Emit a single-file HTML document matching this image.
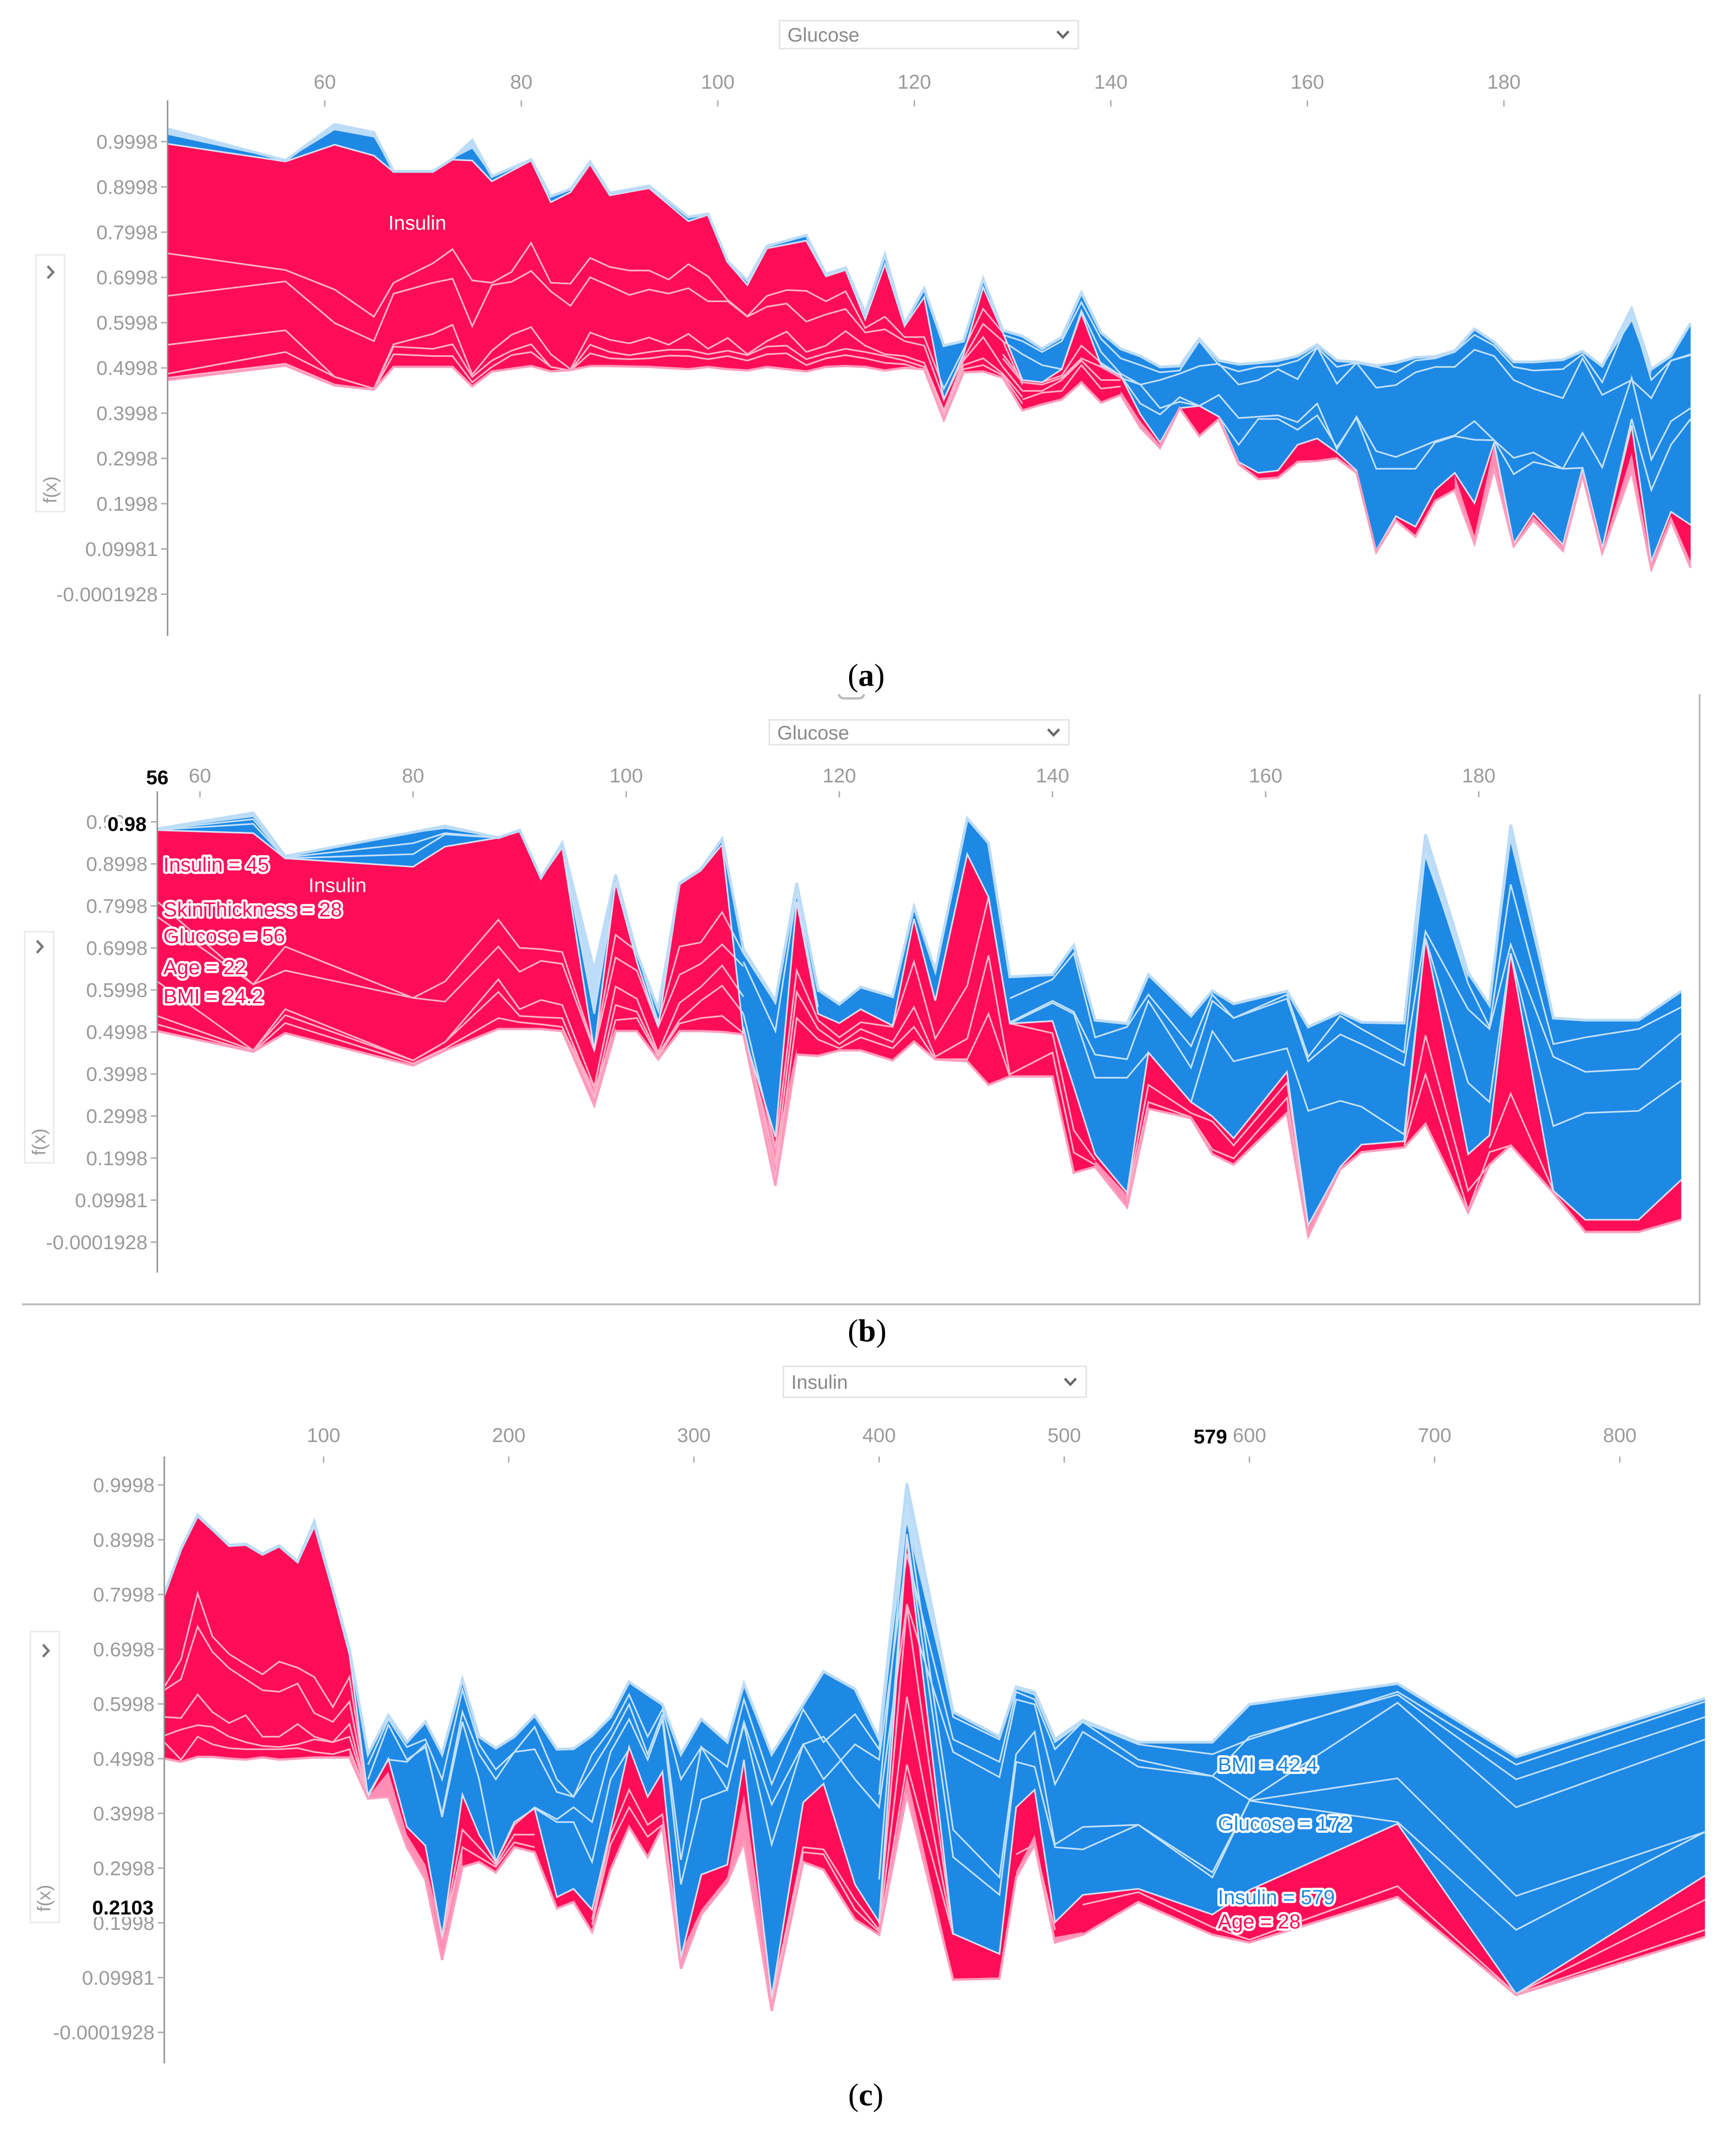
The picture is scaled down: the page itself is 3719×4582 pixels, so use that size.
<!DOCTYPE html>
<html lang="en">
<head>
<meta charset="utf-8">
<title>SHAP force plots</title>
<style>
html,body{margin:0;padding:0;background:#fff;}
svg{display:block;font-family:"Liberation Sans",sans-serif;}
.tick{font-size:43px;fill:#9a9a9a;}
.sel{font-size:42px;fill:#8a8a8a;}
.halo{font-size:44px;paint-order:stroke;stroke:#fff;stroke-width:10px;stroke-linejoin:round;}
.bold{font-size:43px;font-weight:bold;fill:#000;paint-order:stroke;stroke:#fff;stroke-width:12px;stroke-linejoin:round;}
.cap{font-family:"Liberation Serif",serif;font-size:68px;fill:#000;}
</style>
</head>
<body>
<svg id="chart" xmlns="http://www.w3.org/2000/svg" width="3719" height="4582" viewBox="0 0 3719 4582">
<rect width="3719" height="4582" fill="#fff"/>

<g id="panel-a"></g>
<g id="panel-b"></g>
<g id="panel-c"></g>

<!-- panel a furniture -->
<g>
<rect x="1670" y="44" width="640" height="60" fill="#fff" stroke="#e2e2e2" stroke-width="3"/>
<text class="sel" x="1687" y="89">Glucose</text>
<polyline points="2265,67 2277,80 2289,67" fill="none" stroke="#666" stroke-width="5"/>
</g>
<g>
<rect x="77" y="546" width="61" height="550" fill="#fff" stroke="#e8e8e8" stroke-width="3"/>
<polyline points="102,570 114,583 102,596" fill="none" stroke="#777" stroke-width="5"/>
<text class="tick" transform="translate(121,1078) rotate(-90)" style="font-size:40px;fill:#999">f(x)</text>
</g>
<text x="894" y="492" text-anchor="middle" font-size="43" fill="#fff">Insulin</text>
<text class="cap" x="1816" y="1469">(<tspan font-weight="bold">a</tspan>)</text>
<path d="M1797,1487 q2,9 12,9 h30 q10,0 12,-9" fill="none" stroke="#bbb" stroke-width="5"/>

<!-- panel b furniture -->
<path d="M47,2794 H3641 V1487" fill="none" stroke="#bdbdbd" stroke-width="4"/>
<g>
<rect x="1648" y="1542" width="642" height="53" fill="#fff" stroke="#e2e2e2" stroke-width="3"/>
<text class="sel" x="1665" y="1584">Glucose</text>
<polyline points="2245,1562 2257,1575 2269,1562" fill="none" stroke="#666" stroke-width="5"/>
</g>
<g>
<rect x="53" y="1996" width="62" height="495" fill="#fff" stroke="#e8e8e8" stroke-width="3"/>
<polyline points="79,2015 91,2028 79,2041" fill="none" stroke="#777" stroke-width="5"/>
<text class="tick" transform="translate(97,2475) rotate(-90)" style="font-size:40px;fill:#999">f(x)</text>
</g>
<text x="723" y="1911" text-anchor="middle" font-size="43" fill="#fff">Insulin</text>
<g>
<text class="halo" x="350" y="1867" fill="#ff0d57">Insulin = 45</text>
<text class="halo" x="350" y="1963" fill="#ff0d57">SkinThickness = 28</text>
<text class="halo" x="350" y="2020" fill="#ff0d57">Glucose = 56</text>
<text class="halo" x="350" y="2087" fill="#ff0d57">Age = 22</text>
<text class="halo" x="350" y="2149" fill="#ff0d57">BMI = 24.2</text>
</g>
<text class="bold" x="337" y="1680" text-anchor="middle">56</text>
<text class="bold" x="314" y="1780" text-anchor="end">0.98</text>
<text class="cap" x="1816" y="2873">(<tspan font-weight="bold">b</tspan>)</text>

<!-- panel c furniture -->
<g>
<rect x="1678" y="2927" width="649" height="66" fill="#fff" stroke="#e2e2e2" stroke-width="3"/>
<text class="sel" x="1695" y="2975">Insulin</text>
<polyline points="2281,2953 2293,2966 2305,2953" fill="none" stroke="#666" stroke-width="5"/>
</g>
<g>
<rect x="65" y="3495" width="62" height="623" fill="#fff" stroke="#e8e8e8" stroke-width="3"/>
<polyline points="92,3523 104,3536 92,3549" fill="none" stroke="#777" stroke-width="5"/>
<text class="tick" transform="translate(108,4095) rotate(-90)" style="font-size:40px;fill:#999">f(x)</text>
</g>
<g>
<text class="halo" x="2609" y="3795" fill="#1e88e5">BMI = 42.4</text>
<text class="halo" x="2609" y="3921" fill="#1e88e5">Glucose = 172</text>
<text class="halo" x="2609" y="4079" fill="#1e88e5">Insulin = 579</text>
<text class="halo" x="2609" y="4131" fill="#ff0d57">Age = 28</text>
</g>
<text class="bold" x="2593" y="3092" text-anchor="middle">579</text>
<text class="bold" x="329" y="4101" text-anchor="end">0.2103</text>
<text class="cap" x="1817" y="4510">(<tspan font-weight="bold">c</tspan>)</text>
</svg>

<script>
// shared tick labels
const yTickLabels = ["0.9998","0.8998","0.7998","0.6998","0.5998","0.4998","0.3998","0.2998","0.1998","0.09981","-0.0001928"];
const glucoseTicks = [60,80,100,120,140,160,180];
const insulinTicks = [100,200,300,400,500,600,700,800];

// PANEL A: Glucose
const aX = [44,56,61,65,67, 71,73,75,77,81, 83,85,87,89,93, 97,99,101,103,105, 109,111,113,115,117, 119,121,123,125,127, 129,131,133,135,137, 139,141,143,145,147, 149,151,153,155,157, 159,161,163,165,167, 169,171,173,175,177, 179,181,183,186,188, 190,193,195,197,199];
const aTop = [1.028,.958,1.038,1.020,.934, .934,.962,1.003,.923,.960, .879,.895,.955,.886,.902, .833,.840,.735,.693,.769, .793,.707,.721,.621,.750, .597,.675,.549,.559,.697, .583,.570,.542,.568,.666, .578,.542,.526,.502,.504, .564,.516,.508,.511,.516, .526,.551,.516,.513,.505, .511,.523,.525,.538,.586, .557,.513,.513,.518,.537, .504,.631,.497,.526,.599];
const aSplit = [.995,.956,.993,.969,.933, .933,.960,.958,.912,.958, .866,.888,.950,.881,.897, .824,.838,.733,.683,.764, .781,.702,.716,.607,.729, .592,.656,.430,.530,.678, .578,.473,.468,.497,.621, .506,.483,.397,.335,.411, .416,.392,.292,.268,.273, .330,.344,.313,.273,.096, .172,.149,.230,.268,.201, .335,.112,.179,.109,.279, .101,.373,.072,.182,.153];
const aBottom = [.473,.505,.461,.452,.502, .502,.502,.459,.492,.504, .492,.495,.504,.504,.502, .497,.502,.497,.494,.502, .492,.502,.504,.502,.494, .500,.497,.385,.490,.492, .478,.406,.419,.430,.468, .423,.440,.368,.323,.411, .349,.387,.287,.254,.257, .292,.294,.300,.268,.093, .163,.127,.206,.230,.112, .278,.106,.163,.096,.263, .091,.273,.055,.163,.058];
const aRedX = [44,56,61,65,67,71,73,75,77,79,81,83,85,87,89,91,93,95,97,99,101,103,105,107,109,111,113,115,117,119,121,123,125,127,129,131];
const aRed1 = [.753,.716,.673,.613,.688,.731,.762,.693,.688,.712,.776,.688,.686,.743,.723,.715,.715,.695,.729,.702,.650,.614,.659,.672,.670,.647,.669,.588,.613,.568,.568,.454,.540,.630,.578,.473];
const aRed2 = [.659,.691,.599,.559,.664,.688,.697,.592,.683,.690,.714,.669,.637,.700,.681,.661,.673,.664,.676,.647,.647,.613,.635,.642,.602,.618,.630,.578,.585,.559,.549,.430,.521,.597,.559,.463];
const aRed3 = [.551,.583,.480,.454,.552,.575,.595,.485,.538,.573,.590,.530,.497,.578,.562,.554,.567,.551,.575,.542,.566,.530,.559,.580,.535,.549,.581,.549,.530,.526,.511,.406,.516,.568,.502,.449];
const aRed4 = [.487,.535,.480,.454,.547,.542,.552,.480,.516,.538,.552,.502,.494,.551,.535,.528,.535,.540,.540,.530,.538,.528,.547,.549,.519,.532,.542,.535,.526,.516,.502,.402,.506,.521,.487,.435];
const aRed5 = [.478,.509,.463,.452,.530,.526,.526,.468,.502,.528,.535,.502,.494,.532,.521,.519,.521,.527,.526,.519,.526,.516,.530,.532,.506,.521,.528,.521,.511,.508,.494,.392,.497,.506,.483,.421];
const aRedLateX = [131,133,135,137,139,141];
const aRed6 = [.430,.445,.449,.506,.454,.459];
const aRed7 = [.449,.449,.473,.516,.473,.473];
const aBlueX = [129,131,133,135,137, 139,141,143,145,147, 149,151,153,155,157, 159,161,163,165,167, 169,171,173,175,177, 179,181,183,186,188, 190,193,195,197,199];
const aBlue0 = [.573,.559,.535,.559,.645,.564,.521,.506,.490,.494,.559,.506,.492,.502,.504,.516,.545,.502,.511,.502,.490,.516,.521,.535,.573,.549,.502,.494,.497,.530,.468,.621,.473,.516,.530];
const aBlue1 = [.559,.530,.506,.497,.626,.535,.487,.463,.473,.487,.504,.509,.463,.473,.497,.475,.545,.465,.511,.456,.462,.490,.502,.502,.540,.526,.473,.454,.433,.521,.440,.473,.433,.516,.528];
const aBlue2 = [.530,.473,.468,.483,.549,.511,.483,.421,.397,.435,.416,.440,.389,.392,.395,.380,.421,.320,.392,.316,.303,.320,.338,.351,.382,.340,.301,.313,.277,.356,.280,.478,.297,.382,.411];
const aBlue3 = [.521,.468,.463,.478,.521,.502,.478,.463,.411,.425,.416,.392,.330,.387,.387,.363,.395,.325,.389,.277,.277,.277,.335,.349,.341,.340,.265,.292,.277,.279,.101,.387,.230,.330,.387];
// pale upper bands (top edge down to these values)
const aPale1X = [44,56,61,65,67];
const aPale1 = [1.015,.958,1.025,1.009,.934];
const aPale2X = [73,75,77];
const aPale2 = [.962,.984,.923];
const aPale3X = [190,193,195];
const aPale3 = [.502,.602,.483];
// pink lower bands (these values down to bottom edge)
const aPink1X = [175,177,179,181,183,186,188,190,193,195,197,199];
const aPink1 = [.263,.129,.330,.109,.172,.106,.278,.096,.311,.067,.172,.072];
const aPink2X = [121,123,125];
const aPink2 = [.502,.411,.497];
const aPink3X = [141,143,145,147];
const aPink3 = [.449,.382,.330,.411];

// PANEL B: Glucose
const bX = [56,65,68,80,83, 88,90,92,94,97, 99,101,103,105,107, 109,111,114,116,118, 120,122,125,127,129, 132,134,136,140,142, 144,147,149,153,155, 157,162,164,167,169, 173,175,179,181,183, 187,190,195,199];
const bTop = [.983,1.021,.918,.975,.990, .962,.980,.867,.949,.646, .874,.687,.554,.854,.887, .959,.697,.574,.854,.600, .566,.607,.584,.798,.646, 1.008,.949,.631,.636,.706, .528,.520,.636,.538,.598, .567,.597,.512,.546,.523, .521,.970,.641,.564,.993, .533,.528,.528,.597];
const bSplit = [.980,.973,.913,.893,.941, .962,.977,.867,.939,.456, .857,.667,.512,.851,.884, .946,.497,.250,.810,.543, .521,.554,.515,.769,.574, .923,.821,.520,.526,.369, .209,.117,.451,.333,.299, .247,.405,.040,.179,.232, .240,.723,.209,.254,.687, .122,.053,.053,.148];
const bBottom = [.502,.453,.497,.420,.456, .507,.507,.507,.502,.325, .502,.502,.435,.502,.502, .500,.494,.134,.446,.443, .456,.456,.432,.477,.435, .430,.374,.394,.394,.165, .179,.083,.317,.295,.209, .184,.307,.014,.173,.214, .225,.281,.071,.184,.230, .117,.024,.024,.053];
const bRedX = [56,65,68,80,83,88,90,92,94,97,99,101,103,105,107,109,111];
const bRed1 = [.810,.613,.703,.581,.620,.767,.700,.697,.690,.461,.731,.692,.523,.703,.713,.785,.687];
const bRed2 = [.774,.613,.646,.581,.572,.703,.643,.669,.662,.456,.677,.646,.512,.636,.662,.708,.656];
const bRed3 = [.620,.456,.554,.432,.476,.625,.554,.576,.564,.369,.608,.579,.451,.569,.607,.658,.584];
const bRed4 = [.538,.456,.540,.432,.476,.595,.538,.535,.533,.348,.564,.548,.446,.528,.574,.610,.543];
const bRed5 = [.518,.453,.521,.425,.461,.533,.523,.518,.512,.343,.528,.533,.441,.520,.533,.538,.497];
const bRedMidX = [111,114,116,118,120,122,125,127,129,132,134,136];
const bRed6 = [.543,.225,.646,.528,.487,.523,.512,.667,.484,.610,.821,.520];
const bRed7 = [.512,.184,.595,.507,.471,.507,.476,.559,.441,.484,.682,.399];
const bRed8 = [.497,.153,.533,.482,.461,.487,.461,.512,.435,.435,.543,.394];
const bSpikeX = [173,175,179,181,183,187];
const bRed9 = [.240,.492,.122,.184,.230,.117];
const bRed10 = [.230,.399,.076,.214,.230,.117];
const bSpike2X = [181,183,187];
const bRed11 = [.224,.353,.122];
const bDipX = [147,149,153,155,157,162,164];
const bRed12 = [.112,.374,.307,.287,.230,.379,.040];
const bRed13 = [.101,.333,.297,.220,.199,.343,.024];
const bShelfX = [136,140,142,144];
const bRed14 = [.520,.497,.266,.195];
const bRed15 = [.399,.451,.213,.184];
const bBlueX = [136,140,142,144,147,149,153,155,157,162,164,167,169,173,175,179,181,183,187,190,195,199];
const bBlue1 = [.580,.625,.687,.487,.512,.589,.466,.589,.533,.589,.441,.538,.507,.451,.929,.615,.512,.851,.471,.487,.507,.559];
const bBlue2 = [.523,.574,.548,.446,.435,.574,.415,.574,.533,.579,.430,.494,.471,.420,.739,.554,.507,.708,.441,.405,.412,.497];
const bBlue3 = [.520,.569,.543,.391,.391,.451,.333,.502,.430,.461,.312,.336,.322,.256,.723,.379,.333,.687,.276,.307,.312,.384];
const bCapX = [56,65,68,80,83,88];
const bBlue4 = [.982,1.006,.915,.949,.973,.962];
const bBlue5 = [.981,.995,.913,.923,.970,.962];
const bDropX = [94,97,99];
const bBlue6 = [.939,.543,.851];
const bValleyX = [111,114,116,118];
const bBlue7 = [.687,.569,.841,.595];
const bBlue8 = [.667,.502,.831,.559];
const bPale1X = [56,65,68,80,83,88];
const bPale1 = [.982,1.011,.915,.973,.983,.962];
const bPale2X = [94,97,99];
const bPale2 = [.942,.543,.870];
const bPale3X = [111,114,116,118];
const bPale3 = [.697,.564,.836,.595];
const bPale4X = [173,175,179];
const bPale4 = [.521,.913,.625];
const bPale5X = [181,183,187];
const bPale5 = [.554,.949,.528];
const bPink1X = [94,97,99];
const bPink1 = [.512,.369,.512];
const bPink2X = [111,114,116];
const bPink2 = [.497,.225,.461];
const bPink3X = [144,147,149];
const bPink3 = [.194,.112,.333];
const bPink4X = [162,164,167];
const bPink4 = [.333,.038,.179];

// PANEL C: Insulin
const cX = [14,23,32,40,49, 58,67,76,86,95, 105,114,124,135,145, 155,164,175,184,193, 203,214,226,235,245, 255,265,275,283,293, 304,318,327,342,359, 370,387,400,415,440, 465,474,484,495,510, 540,580,600,680,744, 846];
const cTop = [.800,.883,.945,.919,.890, .892,.874,.889,.860,.933, .810,.700,.508,.579,.530, .567,.508,.645,.540,.519, .540,.579,.517,.518,.542, .576,.640,.617,.599,.508, .572,.530,.637,.508,.599, .659,.627,.535,1.003,.585, .540,.631,.622,.535,.570, .530,.530,.599,.637,.503, .610];
const cSplit = [.798,.881,.942,.917,.888, .890,.872,.887,.858,.924, .805,.690,.430,.500,.375, .341,.174,.434,.361,.311, .384,.409,.247,.262,.224, .370,.521,.430,.476,.137, .288,.306,.498,.064,.420, .454,.270,.201,.903,.180, .143,.411,.443,.201,.251, .262,.215,.260,.381,.070, .286];
const cBottom = [.500,.494,.503,.503,.500, .498,.502,.498,.500,.502, .502,.502,.427,.430,.338, .279,.132,.302,.311,.292, .338,.329,.226,.238,.183, .297,.375,.320,.375,.116, .215,.274,.347,.039,.311, .297,.206,.178,.434,.096, .098,.283,.343,.164,.178, .238,.178,.164,.247,.068, .174];
const cRedX = [14,23,32,40,49,58,67,76,86,95,105,114,124];
const cRed1 = [.631,.681,.802,.723,.691,.672,.654,.677,.666,.649,.594,.649,.430];
const cRed2 = [.625,.645,.741,.695,.665,.645,.625,.622,.637,.583,.567,.604,.430];
const cRed3 = [.576,.574,.617,.585,.565,.579,.540,.540,.563,.540,.530,.563,.430];
const cRed4 = [.542,.553,.561,.558,.540,.530,.523,.521,.526,.535,.530,.540,.430];
const cRed5 = [.530,.498,.540,.526,.519,.517,.517,.517,.519,.512,.508,.517,.430];
const cSpikeX = [400,415,440];
const cRed6 = [.197,.777,.180];
const cRed7 = [.187,.613,.178];
const cRed8 = [.183,.489,.178];
const cTailX = [600,680,744,846];
const cRed9 = [.169,.267,.070,.187];
const cEndX = [744,846];
const cRed10 = [.070,.242];
const cLumpX = [164,175,184,193,203,214];
const cRed11 = [.174,.370,.338,.306,.361,.361];
const cRed12 = [.169,.338,.320,.302,.347,.338];
const cLump2X = [245,255,265,275,283,293];
const cRed13 = [.206,.361,.443,.379,.398,.137];
const cRed14 = [.196,.343,.411,.357,.379,.132];
const cLump3X = [342,359,370,387,400];
const cRed15 = [.059,.338,.334,.242,.187];
const cRed16 = [.050,.329,.325,.224,.183];
const cLump4X = [474,484,495];
const cRed17 = [.325,.343,.187];
const cLump5X = [510,540,580,600];
const cRed18 = [.233,.256,.192,.169];
const cBlueX = [124,135,145,155,164,175,184,193,203,214,226,235,245,255,265,275,283,293,304,318,327,342,359,370,387,400,415,440,465,474,484,495,510,540,580,600,680,744,846];
const cBlue1 = [.489,.572,.521,.535,.462,.626,.526,.480,.512,.558,.462,.430,.508,.553,.617,.540,.590,.462,.521,.485,.608,.453,.590,.530,.581,.517,.965,.576,.535,.628,.617,.530,.567,.526,.508,.535,.622,.489,.604];
const cBlue2 = [.462,.562,.498,.521,.398,.585,.508,.462,.512,.517,.439,.430,.480,.535,.599,.508,.581,.315,.521,.443,.567,.416,.526,.462,.526,.498,.874,.535,.494,.622,.608,.517,.567,.498,.468,.540,.617,.462,.576];
const cBlue3 = [.434,.498,.494,.526,.393,.567,.462,.311,.379,.411,.389,.411,.384,.512,.572,.498,.572,.270,.425,.443,.562,.343,.526,.540,.462,.411,.782,.512,.466,.608,.599,.453,.549,.485,.468,.425,.602,.411,.535];
const cMidX = [214,226,235,245,255,265];
const cBlue4 = [.409,.384,.384,.311,.462,.517];
const cLowX = [400,415,440,465,474,484,495,510,540,580,600,680,744,846];
const cBlue5 = [.434,.947,.370,.283,.508,.549,.343,.375,.379,.292,.423,.464,.249,.366];
const cBlue6 = [.279,.910,.320,.251,.494,.485,.338,.334,.379,.283,.423,.384,.187,.366];
const cPale1X = [400,415,440];
const cPale1 = [.526,.928,.580];
const cPink1X = [114,124,135,145,155,164,175];
const cPink1 = [.517,.430,.476,.361,.306,.187,.334];
const cPink2X = [283,293,304,318,327,342,359];
const cPink2 = [.398,.146,.224,.283,.434,.077,.324];
const cPink3X = [400,415,440];
const cPink3 = [.183,.471,.100];
const cPink4X = [474,484,495,510];
const cPink4 = [.293,.361,.174,.183];

const SVGNS = "http://www.w3.org/2000/svg";
function mk(parent, tag, attrs, text) {
  const el = document.createElementNS(SVGNS, tag);
  for (const k in attrs) el.setAttribute(k, attrs[k]);
  if (text !== undefined) el.textContent = text;
  parent.appendChild(el);
  return el;
}

function drawPanel(cfg) {
  const g = document.getElementById(cfg.id);
  const sx = v => cfg.x0 + (v - cfg.xMin) * cfg.xK;
  const sy = v => cfg.yBase + (cfg.yRef - v) * cfg.yK;
  const pts = (xs, vs) => xs.map((x, i) => vs[i] === undefined ? null : sx(x).toFixed(1) + "," + sy(vs[i]).toFixed(1)).filter(Boolean);
  const at = (arr, x) => arr[cfg.x.indexOf(x)];

  const topPts = pts(cfg.x, cfg.top);
  const splitPts = pts(cfg.x, cfg.split);
  const botPts = pts(cfg.x, cfg.bottom);

  const defs = mk(g, "defs", {});
  const clipRed = mk(defs, "clipPath", {id: cfg.id + "-clip-red"});
  mk(clipRed, "polygon", {points: splitPts.concat(botPts.slice().reverse()).join(" ")});
  const clipBlue = mk(defs, "clipPath", {id: cfg.id + "-clip-blue"});
  mk(clipBlue, "polygon", {points: topPts.concat(splitPts.slice().reverse()).join(" ")});

  const blue = mk(g, "polygon", {points: topPts.concat(splitPts.slice().reverse()).join(" "), fill: "#1e88e5"});
  
  
  const red = mk(g, "polygon", {points: splitPts.concat(botPts.slice().reverse()).join(" "), fill: "#ff0d57"});
  
  

  cfg.pale.forEach(function (band) {
    const upper = pts(band[0], band[0].map(x => at(cfg.top, x)));
    const lower = pts(band[0], band[1]);
    const el = mk(g, "polygon", {points: upper.concat(lower.reverse()).join(" "), fill: "#bcdcf7"});
    
    
  });
  cfg.pink.forEach(function (band) {
    const upper = pts(band[0], band[1]);
    const lower = pts(band[0], band[0].map(x => at(cfg.bottom, x)));
    const el = mk(g, "polygon", {points: upper.concat(lower.reverse()).join(" "), fill: "#ff8fb4"});
    
    
  });

  const redLines = mk(g, "g", {"clip-path": "url(#" + cfg.id + "-clip-red)"});
  const blueLines = mk(g, "g", {"clip-path": "url(#" + cfg.id + "-clip-blue)"});
  cfg.lines.forEach(function (ln) {
    const p = pts(ln[0], ln[1]).join(" ");
    const a = mk(redLines, "polyline", {points: p, fill: "none", stroke: "#ffb3ca", "stroke-width": 3.5});
    
    
    const b = mk(blueLines, "polyline", {points: p, fill: "none", stroke: "#c3e1fb", "stroke-width": 3.5});
    
    
  });

  const splitLine = mk(g, "polyline", {points: splitPts.join(" "), fill: "none", stroke: "#d6dff3", "stroke-width": 3.5});
  
  
  const topLine = mk(g, "polyline", {points: topPts.join(" "), fill: "none", stroke: "#bcdcf7", "stroke-width": 6});
  
  
  const botLine = mk(g, "polyline", {points: botPts.join(" "), fill: "none", stroke: "#ff9dbd", "stroke-width": 5});
  
  

  const axis = mk(g, "line", {x1: cfg.x0, x2: cfg.x0, y1: cfg.axisTop, y2: cfg.axisBottom, stroke: "#8c8c8c", "stroke-width": 3});
  
  

  yTickLabels.forEach(function (label) {
    const y = sy(parseFloat(label));
    const tk = mk(g, "line", {x1: cfg.x0 - 14, x2: cfg.x0, y1: y, y2: y, stroke: "#aaa", "stroke-width": 3});
    
    
    const t = mk(g, "text", {x: cfg.x0 - 21, y: y + 15, "text-anchor": "end", class: "tick"}, label);
    
    
  });
  cfg.xTicks.forEach(function (v) {
    const x = sx(v);
    const tk = mk(g, "line", {x1: x, x2: x, y1: cfg.axisTop, y2: cfg.axisTop + 13, stroke: "#aaa", "stroke-width": 3});
    
    
    const t = mk(g, "text", {x: x, y: cfg.axisTop - cfg.labelGap, "text-anchor": "middle", class: "tick"}, String(v));
    
    
  });
}

drawPanel({id: "panel-a", x0: 359, xMin: 44, xK: 21.05, yBase: 0, yRef: 1.3128, yK: 969.4, axisTop: 215, axisBottom: 1362, labelGap: 25,
  x: aX, top: aTop, split: aSplit, bottom: aBottom, xTicks: glucoseTicks,
  pale: [[aPale1X,aPale1],[aPale2X,aPale2],[aPale3X,aPale3]],
  pink: [[aPink1X,aPink1],[aPink2X,aPink2],[aPink3X,aPink3]],
  lines: [[aRedX,aRed1],[aRedX,aRed2],[aRedX,aRed3],[aRedX,aRed4],[aRedX,aRed5],[aRedLateX,aRed6],[aRedLateX,aRed7],[aBlueX,aBlue0],[aBlueX,aBlue1],[aBlueX,aBlue2],[aBlueX,aBlue3]]});

drawPanel({id: "panel-b", x0: 337, xMin: 56, xK: 22.83, yBase: 1450, yRef: 1.3447, yK: 900.3, axisTop: 1695, axisBottom: 2726, labelGap: 19,
  x: bX, top: bTop, split: bSplit, bottom: bBottom, xTicks: glucoseTicks,
  pale: [[bPale1X,bPale1],[bPale2X,bPale2],[bPale3X,bPale3],[bPale4X,bPale4],[bPale5X,bPale5]],
  pink: [[bPink1X,bPink1],[bPink2X,bPink2],[bPink3X,bPink3],[bPink4X,bPink4]],
  lines: [[bRedX,bRed1],[bRedX,bRed2],[bRedX,bRed3],[bRedX,bRed4],[bRedX,bRed5],[bRedMidX,bRed6],[bRedMidX,bRed7],[bRedMidX,bRed8],[bSpikeX,bRed9],[bSpikeX,bRed10],[bSpike2X,bRed11],[bDipX,bRed12],[bDipX,bRed13],[bShelfX,bRed14],[bShelfX,bRed15],[bBlueX,bBlue1],[bBlueX,bBlue2],[bBlueX,bBlue3],[bCapX,bBlue4],[bCapX,bBlue5],[bDropX,bBlue6],[bValleyX,bBlue7],[bValleyX,bBlue8]]});

drawPanel({id: "panel-c", x0: 352, xMin: 14, xK: 3.967, yBase: 2900, yRef: 1.2395, yK: 1172.5, axisTop: 3120, axisBottom: 4420, labelGap: 31,
  x: cX, top: cTop, split: cSplit, bottom: cBottom, xTicks: insulinTicks,
  pale: [[cPale1X,cPale1]],
  pink: [[cPink1X,cPink1],[cPink2X,cPink2],[cPink3X,cPink3],[cPink4X,cPink4]],
  lines: [[cRedX,cRed1],[cRedX,cRed2],[cRedX,cRed3],[cRedX,cRed4],[cRedX,cRed5],[cSpikeX,cRed6],[cSpikeX,cRed7],[cSpikeX,cRed8],[cTailX,cRed9],[cEndX,cRed10],[cLumpX,cRed11],[cLumpX,cRed12],[cLump2X,cRed13],[cLump2X,cRed14],[cLump3X,cRed15],[cLump3X,cRed16],[cLump4X,cRed17],[cLump5X,cRed18],[cBlueX,cBlue1],[cBlueX,cBlue2],[cBlueX,cBlue3],[cMidX,cBlue4],[cLowX,cBlue5],[cLowX,cBlue6]]});
</script>
</body>
</html>
